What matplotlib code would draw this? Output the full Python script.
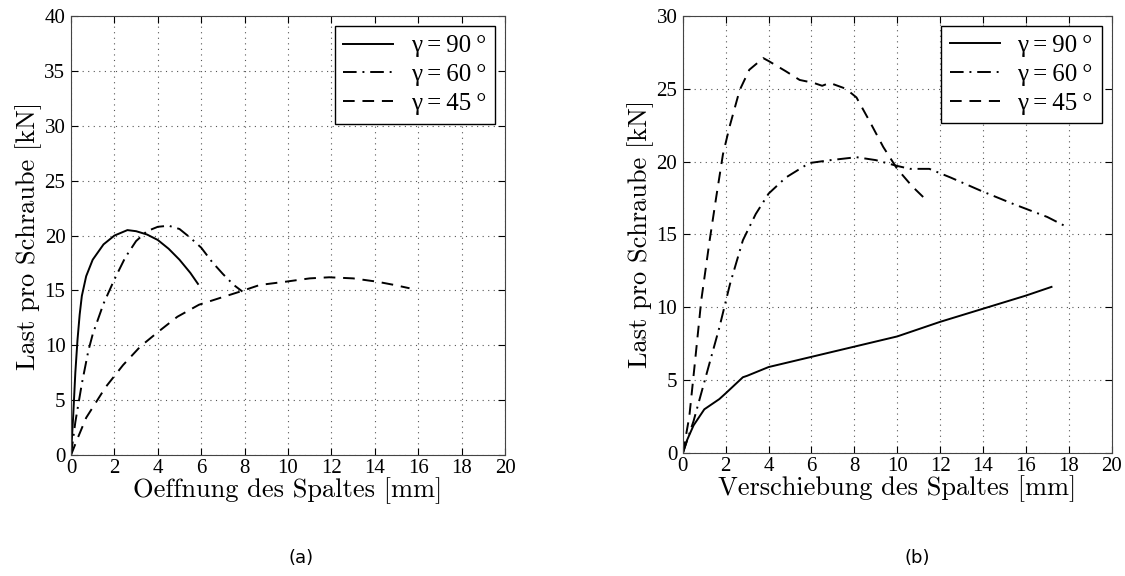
import matplotlib
matplotlib.use("Agg")
import matplotlib.pyplot as plt

# (a) Oeffnung des Spaltes
a90_x = [0, 0.1, 0.2, 0.3, 0.4, 0.5, 0.7, 1.0, 1.5, 2.0, 2.6, 3.0, 3.5, 4.0, 4.5, 5.0, 5.5, 5.85]
a90_y = [0, 3.5, 7.5, 10.5, 12.8, 14.5, 16.3, 17.8, 19.2, 20.0, 20.5, 20.4, 20.1, 19.6, 18.8, 17.8, 16.6, 15.6]
a60_x = [0, 0.2, 0.5, 0.8, 1.0, 1.5, 2.0, 2.5, 3.0, 3.5, 4.0, 4.5, 5.0, 5.5, 6.0, 6.5, 7.0, 7.5, 7.9]
a60_y = [0, 3.0, 6.5, 9.5, 11.0, 13.8, 16.0, 18.0, 19.5, 20.4, 20.8, 20.9, 20.6, 19.8, 18.9, 17.6, 16.5, 15.5, 14.9]
a45_x = [0, 0.3, 0.7, 1.6, 2.4, 3.2, 4.0, 4.9, 5.9, 7.0, 7.8, 8.7, 9.9, 11.0, 11.9, 13.0, 14.1, 14.9, 15.6]
a45_y = [0, 1.5, 3.4, 6.2, 8.2, 9.9, 11.2, 12.6, 13.7, 14.4, 14.9, 15.5, 15.8, 16.1, 16.2, 16.1, 15.8, 15.5, 15.2]

# (b) Verschiebung des Spaltes
b90_x = [0, 0.2, 0.5, 1.0, 1.7, 2.0, 2.8, 3.0, 4.0, 6.0, 8.0, 10.0, 12.0, 14.0, 16.0, 17.2]
b90_y = [0, 0.9, 1.9, 3.0, 3.7, 4.1, 5.2, 5.3, 5.9, 6.6, 7.3, 8.0, 9.0, 9.9, 10.8, 11.4]
b60_x = [0, 0.5, 1.1, 1.7, 2.2, 2.8, 3.4, 4.0, 4.8, 5.9, 6.9, 8.1, 9.0, 10.0, 10.6, 11.5, 12.5, 13.9, 15.4, 17.0, 17.8]
b60_y = [0, 2.2, 5.4, 8.6, 11.6, 14.6, 16.4, 17.8, 18.9, 19.9, 20.1, 20.3, 20.1, 19.7, 19.5, 19.5, 18.9, 18.0, 17.1, 16.2, 15.6]
b45_x = [0, 0.3, 0.54, 0.86, 1.25, 1.56, 1.87, 2.18, 2.65, 3.1, 3.75, 4.0, 4.8, 5.45, 6.1, 6.5, 6.85, 7.6, 8.1, 8.7, 9.35, 10.0, 10.7, 11.4]
b45_y = [0, 2.5, 5.9, 10.5, 14.6, 17.6, 20.5, 22.4, 24.9, 26.3, 27.1, 26.9, 26.2, 25.6, 25.4, 25.2, 25.4, 25.0, 24.4, 22.8, 21.0, 19.5, 18.3, 17.3]

labels = ["γ\u2009=\u200990\u2009°", "γ\u2009=\u200960\u2009°", "γ\u2009=\u200945\u2009°"]
plt.rcParams["font.family"] = ["Liberation Serif", "DejaVu Serif"]

fig = plt.figure(figsize=(11.25, 5.76), dpi=100)
ax1 = fig.add_axes([0.0631, 0.210, 0.3858, 0.762])
ax2 = fig.add_axes([0.607, 0.2135, 0.381, 0.759])

styles = [dict(ls="-"), dict(ls=(0, (7, 3, 1, 3))), dict(ls=(0, (6, 4)))]


def setup(ax, xs, ys, ymax, xlabel):
    for (x, y), st, lab in zip(zip(xs, ys), styles, labels):
        ax.plot(x, y, color="black", lw=1.4, label=lab, **st)
    ax.set_xlim(0, 20)
    ax.set_ylim(0, ymax)
    ax.set_xticks(range(0, 21, 2))
    ax.set_yticks(range(0, ymax + 1, 5))
    ax.tick_params(direction="in", top=True, right=True, labelsize=15, length=5)
    ax.tick_params(axis="x", pad=3)
    ax.tick_params(axis="y", pad=4)
    ax.grid(True, ls=(0, (1, 4)), color="#555555", lw=0.8)
    for s in ax.spines.values():
        s.set_color("#444444")
    ax.set_xlabel(xlabel, fontsize=19, family="cmr10", labelpad=-1)
    ax.set_ylabel("Last pro Schraube [kN]", fontsize=19, family="cmr10", labelpad=2)
    leg = ax.legend(loc="upper right", fontsize=18, fancybox=False, framealpha=1,
                    edgecolor="black", handlelength=2.0, handletextpad=0.7,
                    borderpad=0.35, labelspacing=0.25, borderaxespad=0.4)
    leg.get_frame().set_linewidth(1.0)


setup(ax1, [a90_x, a60_x, a45_x], [a90_y, a60_y, a45_y], 40, "Oeffnung des Spaltes [mm]")
setup(ax2, [b90_x, b60_x, b45_x], [b90_y, b60_y, b45_y], 30, "Verschiebung des Spaltes [mm]")

fig.text(0.268, 0.022, "(a)", family="DejaVu Sans", fontsize=13, ha="center")
fig.text(0.815, 0.022, "(b)", family="DejaVu Sans", fontsize=13, ha="center")

fig.savefig("out.png")
